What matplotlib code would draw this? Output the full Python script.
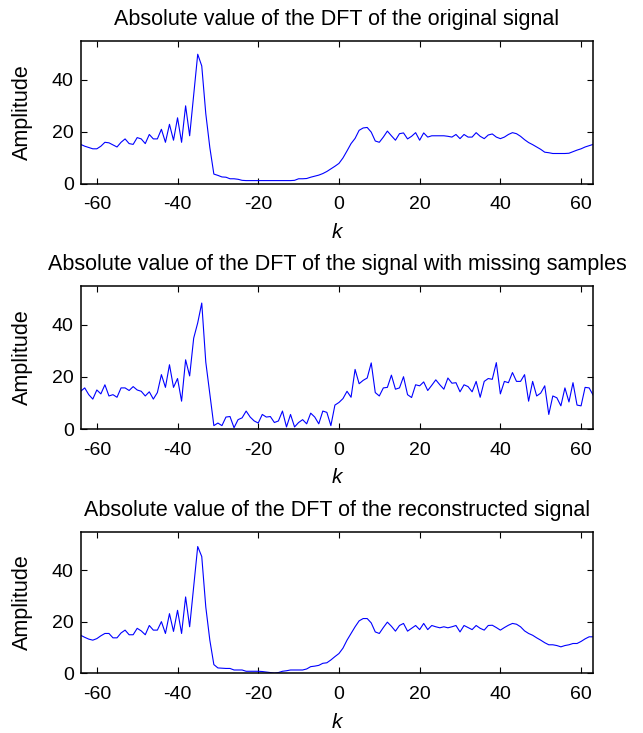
import numpy as np
import matplotlib
matplotlib.use("Agg")
import matplotlib.pyplot as plt

k = list(range(-64, 64))

original = [
    15.2, 14.5, 14.0, 13.5, 13.5, 14.5, 16.0, 15.8, 15.0, 14.2,
    16.0, 17.3, 15.5, 15.2, 17.8, 17.3, 15.5, 19.0, 17.3, 17.3,
    21.0, 16.0, 22.9, 16.8, 25.4, 16.0, 30.0, 18.5, 34.0, 49.8,
    45.3, 27.0, 14.0, 3.8, 3.3, 2.7, 2.6, 2.0, 2.0, 1.8,
    1.4, 1.3, 1.3, 1.3, 1.3, 1.3, 1.3, 1.3, 1.3, 1.3,
    1.3, 1.3, 1.3, 1.4, 2.0, 2.0, 2.1, 2.6, 3.0, 3.4,
    4.0, 4.8, 5.8, 6.8, 7.9, 10.0, 12.7, 15.5, 17.5, 20.6,
    21.5, 21.7, 19.9, 16.5, 16.0, 18.0, 20.3, 18.5, 16.8, 19.3,
    19.6, 17.3, 18.3, 19.7, 16.8, 19.6, 18.0, 18.5, 18.5, 18.5,
    18.5, 18.3, 18.0, 19.0, 17.4, 19.0, 18.0, 18.0, 19.7, 18.3,
    17.4, 18.8, 19.2, 18.0, 17.4, 18.0, 19.0, 19.7, 19.3, 18.3,
    17.0, 15.9, 15.1, 14.2, 13.3, 12.2, 12.0, 11.7, 11.7, 11.7,
    11.7, 11.8, 12.4, 13.0, 13.5, 14.2, 14.7, 15.2,
]

missing = [
    14.5, 15.8, 13.2, 11.5, 15.0, 13.5, 17.0, 12.7, 13.2, 12.2,
    15.8, 15.8, 14.8, 16.3, 15.0, 14.5, 12.7, 14.3, 11.5, 14.0,
    20.9, 16.0, 24.7, 16.0, 19.4, 10.7, 26.6, 20.4, 34.9, 40.8,
    48.4, 25.7, 13.6, 1.3, 2.3, 1.3, 4.6, 4.8, 0.5, 3.6,
    4.3, 6.9, 4.6, 3.1, 2.3, 5.6, 4.6, 4.8, 2.5, 3.1,
    6.9, 0.8, 5.6, 0.8, 2.5, 3.6, 2.0, 6.1, 4.6, 2.0,
    6.9, 6.4, 1.3, 9.2, 10.2, 11.7, 14.5, 12.2, 22.9, 17.4,
    18.7, 19.6, 25.4, 14.0, 12.7, 15.8, 16.0, 20.7, 15.3, 15.8,
    20.1, 13.2, 12.1, 17.0, 16.6, 18.1, 14.8, 16.8, 18.9, 17.0,
    15.3, 19.6, 17.6, 17.8, 14.3, 17.0, 16.3, 14.3, 18.3, 12.2,
    18.3, 19.4, 19.1, 25.5, 13.5, 18.3, 17.8, 21.7, 18.3, 18.3,
    20.9, 10.7, 18.3, 12.7, 13.8, 16.6, 5.6, 12.7, 12.0, 8.9,
    15.8, 10.4, 17.8, 9.2, 8.9, 16.0, 15.8, 13.0,
]

reconstructed = [
    14.8, 14.0, 13.3, 12.9, 13.5, 14.6, 15.5, 15.5, 13.8, 13.8,
    15.7, 16.8, 15.0, 15.0, 17.5, 16.5, 15.0, 18.6, 16.8, 16.8,
    20.1, 15.5, 23.2, 16.3, 24.5, 15.5, 29.7, 18.1, 33.5, 49.3,
    45.4, 25.8, 12.9, 3.4, 2.1, 2.0, 1.9, 1.9, 1.3, 1.3,
    1.3, 0.8, 0.8, 0.8, 0.8, 0.7, 0.5, 0.3, 0.1, 0.3,
    0.8, 1.0, 1.3, 1.3, 1.3, 1.3, 1.7, 2.6, 2.8, 3.1,
    3.9, 4.1, 5.2, 6.5, 7.7, 9.8, 12.9, 15.5, 18.1, 20.4,
    21.3, 21.3, 19.6, 16.1, 15.5, 17.8, 19.9, 18.3, 16.4, 18.6,
    19.4, 16.4, 17.5, 18.6, 17.0, 19.4, 17.0, 18.6, 18.1, 17.7,
    18.1, 17.7, 18.1, 18.6, 16.1, 18.6, 17.8, 17.0, 18.6, 17.5,
    16.8, 18.6, 18.7, 17.8, 16.8, 17.8, 18.7, 19.4, 19.1, 18.1,
    16.5, 15.5, 14.8, 13.8, 12.9, 11.9, 11.1, 11.1, 10.8, 10.3,
    10.8, 11.1, 11.6, 11.6, 12.4, 13.4, 14.2, 14.2,
]

titles = [
    "Absolute value of the DFT of the original signal",
    "Absolute value of the DFT of the signal with missing samples",
    "Absolute value of the DFT of the reconstructed signal",
]
xticks = [-60, -40, -20, 0, 20, 40, 60]
yticks = [0, 20, 40]

plt.rcParams['font.family'] = ['Liberation Sans', 'DejaVu Sans']
plt.rcParams['axes.unicode_minus'] = False

fig = plt.figure(figsize=(6.43, 7.33), dpi=100)
positions = [
    [0.1255, 0.749, 0.797, 0.1955],
    [0.1255, 0.4147, 0.797, 0.1953],
    [0.1255, 0.0814, 0.797, 0.1930],
]
series = [original, missing, reconstructed]
tick_fs = 14
text_fs = 15.5
for pos, y, t in zip(positions, series, titles):
    ax = fig.add_axes(pos)
    ax.plot(k, y, color=(0, 0, 1), linewidth=0.8)
    ax.set_xlim(-64, 63)
    ax.set_ylim(0, 55)
    ax.set_xticks(xticks)
    ax.set_yticks(yticks)
    ax.tick_params(direction='in', length=4, width=0.8, top=True, right=True,
                   labelsize=tick_fs, colors='black')
    ax.tick_params(axis='x', pad=9)
    ax.tick_params(axis='y', pad=5)
    for s in ax.spines.values():
        s.set_linewidth(1.1)
        s.set_color('black')
    ax.set_title(t, fontsize=text_fs, pad=11.3)
    ax.set_xlabel('k', fontsize=15, style='italic', labelpad=7)
    ax.set_ylabel('Amplitude', fontsize=text_fs, labelpad=13.8)

fig.savefig('out.png', dpi=100)
